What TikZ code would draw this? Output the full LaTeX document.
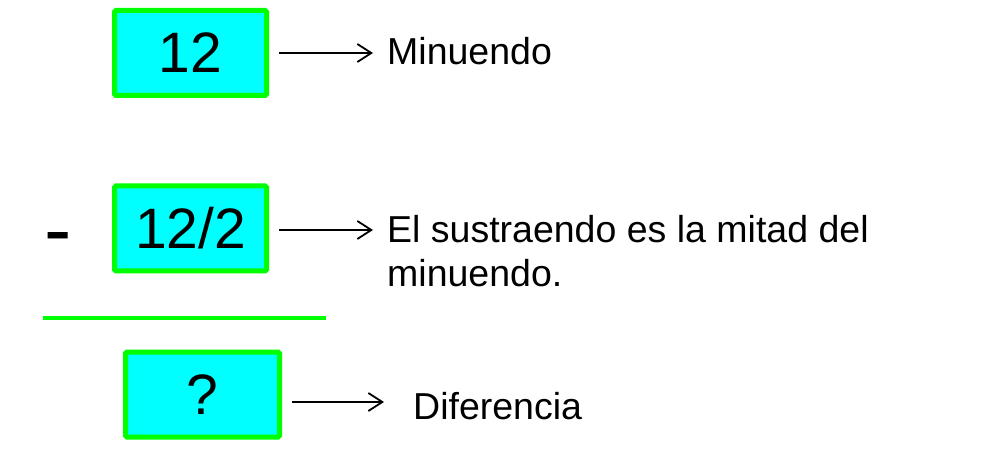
\documentclass[tikz,border=0pt]{standalone}
\usepackage{fontspec}
\setmainfont{Liberation Sans}
\usetikzlibrary{arrows.meta}
\definecolor{boxfill}{HTML}{00FFFF}
\definecolor{boxline}{HTML}{00FF00}
\begin{document}
\begin{tikzpicture}[x=1pt,y=-1pt,
  numbox/.style={draw=boxline,fill=boxfill,line width=5pt,rounded corners=1.5pt,
    minimum width=152pt,minimum height=85pt,inner sep=0pt,
    font=\fontsize{57}{60}\selectfont},
  lbl/.style={inner sep=0pt,anchor=base west,align=left,
    font=\fontsize{37.5}{44}\selectfont},
  arr/.style={-{Straight Barb[length=14pt,width=18pt,line width=1.8pt]},line width=1.8pt,black}]
\useasboundingbox (0,0) rectangle (999,465);
% boxes
\node[numbox] (b1) at (190.5,53) {12};
\node[numbox] (b2) at (190.5,228.5) {12/2};
\node[numbox,minimum width=154pt] (b3) at (202.5,394.5) {?};
% labels
\node[lbl] (t1) at (387,65) {Minuendo};
\node[lbl] (t2) at (387,287) {El sustraendo es la mitad del\\minuendo.};
\node[lbl] (t3) at (413,419) {Diferencia};
% minus sign
\node[inner sep=0pt,anchor=base,font=\fontsize{82}{82}\selectfont] (minus) at (58,257.5) {-};
% rule
\draw[boxline,line width=4pt] (43,318) -- (326,318);
% arrows
\draw[arr,shorten <=10pt,shorten >=14pt] (b1.east) -- (b1.east -| t1.west);
\draw[arr,shorten <=10pt,shorten >=14pt] ([yshift=-1.5pt]b2.east) -- ([yshift=-1.5pt]b2.east -| t2.west);
\draw[arr,shorten <=10pt,shorten >=29pt] ([yshift=-7.5pt]b3.east) -- ([yshift=-7.5pt]b3.east -| t3.west);
\end{tikzpicture}
\end{document}
